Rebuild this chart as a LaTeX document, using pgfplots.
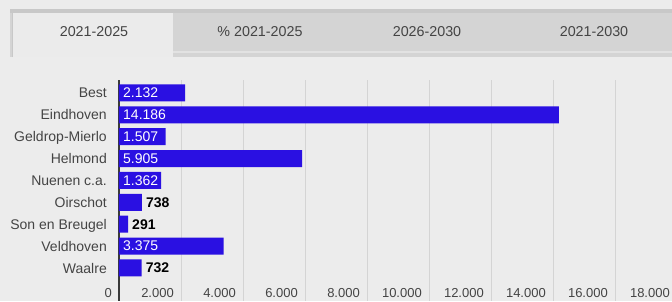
\documentclass[border=0pt]{standalone}
\usepackage{fontspec}
\setmainfont{Liberation Sans}
\usepackage{pgfplots}
\pgfplotsset{compat=1.18}
\definecolor{bg}{HTML}{ECECEC}
\definecolor{tabgray}{HTML}{D4D4D4}
\definecolor{tabline}{HTML}{C8C8C8}
\definecolor{tabactive}{HTML}{EBEBEB}
\definecolor{barblue}{RGB}{42,16,226}
\definecolor{gridc}{HTML}{D4D4D4}
\definecolor{axisdark}{HTML}{3A3A3A}
\definecolor{txt}{HTML}{444444}
\begin{document}
\begin{tikzpicture}
\path[use as bounding box] (0pt,0pt) rectangle (672pt,301pt);
\clip (0pt,0pt) rectangle (672pt,301pt);
\fill[bg] (0pt,0pt) rectangle (672pt,301pt);
% tab strip
\fill[tabgray] (10pt,244pt) rectangle (672pt,292pt);
\fill[tabline] (10pt,288pt) rectangle (672pt,292pt);
\fill[bg!60!tabgray] (173pt,248pt) rectangle (672pt,250pt);
\fill[tabactive] (12pt,244pt) rectangle (173pt,288pt);
\draw[tabline, line width=1pt] (12pt,244pt) -- (12pt,288pt);
\node[font=\fontsize{14.3}{16}\selectfont, text=txt] at (94pt,269pt) {2021-2025};
\node[font=\fontsize{14.3}{16}\selectfont, text=txt] at (260pt,269pt) {\% 2021-2025};
\node[font=\fontsize{14.3}{16}\selectfont, text=txt] at (427pt,269pt) {2026-2030};
\node[font=\fontsize{14.3}{16}\selectfont, text=txt] at (594pt,269pt) {2021-2030};
\begin{axis}[
  at={(119pt,0pt)}, anchor=south west,
  scale only axis, width=558pt, height=221pt,
  xmin=0, xmax=18000, ymin=-0.594, ymax=9.509,
  y dir=reverse,
  axis line style={draw=none},
  major tick length=0pt,
  xtick={0,2000,4000,6000,8000,10000,12000,14000,16000,18000},
  xticklabels={0,2.000,4.000,6.000,8.000,10.000,12.000,14.000,16.000,18.000},
  xticklabel style={anchor=base east, inner sep=0pt, xshift=-7pt, yshift=3.5pt, text depth=0pt, text=txt, font=\fontsize{13}{15}\selectfont},
  xmajorgrids, major grid style={gridc, line width=0.8pt},
  extra x ticks={0}, extra x tick labels={},
  extra x tick style={grid=major, major grid style={axisdark, line width=2pt}},
  ytick={0,1,2,3,4,5,6,7,8},
  yticklabels={Best,Eindhoven,Geldrop-Mierlo,Helmond,Nuenen c.a.,Oirschot,Son en Breugel,Veldhoven,Waalre},
  yticklabel style={anchor=east, inner sep=0pt, xshift=-12pt, text=txt, text depth=0pt, font=\fontsize{14}{16}\selectfont},
  clip=false,
]
\addplot[xbar, bar width=17pt, fill=barblue, draw=none] coordinates {
  (2132,0) (14186,1) (1507,2) (5905,3) (1362,4) (738,5) (291,6) (3375,7) (732,8)
};
\addplot[draw=none, mark=none, nodes near coords, point meta=explicit symbolic,
  nodes near coords style={anchor=west, inner sep=0pt, xshift=4pt, text=white, font=\fontsize{14}{16}\selectfont}]
  coordinates {
  (0,0) [2.132] (0,1) [14.186] (0,2) [1.507] (0,3) [5.905] (0,4) [1.362] (0,7) [3.375]
};
\addplot[draw=none, mark=none, nodes near coords, point meta=explicit symbolic,
  nodes near coords style={anchor=west, inner sep=0pt, xshift=4pt, text=black, font=\fontsize{14}{16}\selectfont\bfseries}]
  coordinates {
  (738,5) [738] (291,6) [291] (732,8) [732]
};
\end{axis}
\end{tikzpicture}
\end{document}
